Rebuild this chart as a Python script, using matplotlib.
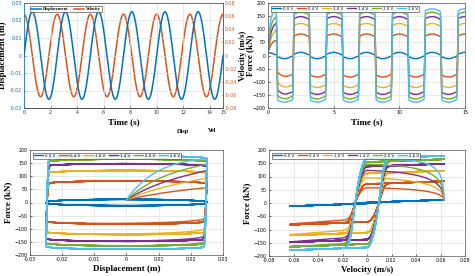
import numpy as np
import matplotlib
matplotlib.use("Agg")
import matplotlib.pyplot as plt

# test signal
amp_disp = 0.025      # m
period = 2.5          # s
t_end = 15.0

# damper levels
volt_labels = ["0.0 V", "0.4 V", "1.0 V", "1.4 V", "2.0 V", "2.6 V"]
yield_force = [2, 72, 112, 138, 155, 168]       # kN
rise_tau = [0.3, 0.39, 0.33, 0.28, 0.22, 0.15]  # s, start-up lag
visc = 160.0          # kN s/m
delta = 0.0003        # m, Bouc-Wen yield displacement

colors = ["#0072BD", "#D95319", "#EDB120", "#7E2F8E", "#77AC30", "#4DBEEE"]

t = np.linspace(0, t_end, 30001)
w = 2 * np.pi / period
x = amp_disp * np.sin(w * t)
v = amp_disp * w * np.cos(w * t)

forces = []
for f0, tau in zip(yield_force, rise_tau):
    z = np.zeros_like(t)
    for i in range(1, len(t)):
        dx = x[i] - x[i - 1]
        zp = z[i - 1]
        dz = dx / delta - 0.5 / delta * abs(dx) * zp * abs(zp) - 0.5 / delta * dx * zp ** 2
        z[i] = np.clip(zp + dz, -1, 1)
    g = 1 - np.exp(-t / tau)
    forces.append(f0 * g * z + visc * v)

W, H = 475, 276
fig = plt.figure(figsize=(W / 100, H / 100), dpi=100)

def pos(l, t_, r, b):
    return [l / W, 1 - b / H, (r - l) / W, (b - t_) / H]

lab = dict(family="Liberation Serif", fontweight="bold", fontsize=6.5)
tick_fs = 3.4

def style(ax):
    ax.grid(True, color="#e0e0e0", lw=0.5)
    ax.set_axisbelow(True)
    ax.tick_params(labelsize=tick_fs, length=1.5, width=0.4, pad=1.5, direction="in")
    for s in ax.spines.values():
        s.set_linewidth(0.5)
        s.set_color("#555555")

# top left
ax1 = fig.add_axes(pos(24, 3, 223, 108))
l1, = ax1.plot(t, x, color=colors[0], lw=1.1, label="Displacement")
ax1.set_xlim(0, 15)
ax1.set_ylim(-0.03, 0.03)
ax1.set_xticks([0, 2, 4, 6, 8, 10, 12, 14, 15])
ax1.set_yticks([-0.03, -0.02, -0.01, 0, 0.01, 0.02, 0.03])
ax1.set_yticklabels(["-0.03", "-0.02", "-0.01", "0", "0.01", "0.02", "0.03"])
style(ax1)
ax1.tick_params(axis="y", colors=colors[0])
ax1.tick_params(axis="x", colors="#333333")
ax1.spines["left"].set_color(colors[0])
ax1.set_xlabel("Time (s)", labelpad=2, **lab)
ax1.set_ylabel("Displacement (m)", labelpad=2, **lab)
ax1b = ax1.twinx()
l2, = ax1b.plot(t, v, color=colors[1], lw=1.1, label="Velocity")
ax1b.set_ylim(-0.08, 0.08)
ax1b.set_yticks([-0.08, -0.06, -0.04, -0.02, 0, 0.02, 0.04, 0.06, 0.08])
ax1b.set_yticklabels(["-0.08", "-0.06", "-0.04", "-0.02", "0", "0.02", "0.04", "0.06", "0.08"])
ax1b.tick_params(labelsize=tick_fs, length=1.5, width=0.4, pad=1.2, direction="in", colors=colors[1])
for s in ax1b.spines.values():
    s.set_linewidth(0.5)
ax1b.spines["right"].set_color(colors[1])
ax1b.spines["left"].set_color(colors[0])
ax1b.set_ylabel("Velocity (m/s)", family="Liberation Serif", fontweight="bold", fontsize=6.2)
ax1b.yaxis.set_label_coords(1.078, 0.5)
leg = ax1.legend(handles=[l1, l2], loc="upper left", ncol=2,
                 prop={"family": "Liberation Serif", "weight": "bold", "size": 3.2},
                 bbox_to_anchor=(0.03, 0.975), borderaxespad=0, handlelength=2.2,
                 columnspacing=1.2, handletextpad=0.5, frameon=True, fancybox=False,
                 edgecolor="#333333", borderpad=0.3)
leg.get_frame().set_linewidth(0.5)
ax1.set_zorder(ax1b.get_zorder() + 1)
ax1.patch.set_visible(False)
fig.text(183 / W, 1 - 131 / H, "Disp", fontsize=4.5, family="Liberation Serif", fontweight="bold", ha="center", va="center")
fig.text(212 / W, 1 - 131 / H, "Vel", fontsize=4.5, family="Liberation Serif", fontweight="bold", ha="center", va="center")

def legend6(ax):
    lg = ax.legend(loc="upper left", ncol=6, fontsize=2.8, bbox_to_anchor=(0.015, 0.975),
                   borderaxespad=0, handlelength=2.4, columnspacing=0.9, handletextpad=0.5,
                   frameon=True, fancybox=False, edgecolor="#333333", borderpad=0.3)
    lg.get_frame().set_linewidth(0.5)

# top right
ax2 = fig.add_axes(pos(268, 3, 465, 108))
for f, c, name in zip(forces, colors, volt_labels):
    ax2.plot(t, f, color=c, lw=1.0, label=name)
ax2.set_xlim(0, 15)
ax2.set_ylim(-200, 200)
ax2.set_xticks([0, 5, 10, 15])
ax2.set_yticks(np.arange(-200, 201, 50))
style(ax2)
ax2.set_xlabel("Time (s)", labelpad=2, **lab)
ax2.set_ylabel("Force (kN)", **lab)
ax2.yaxis.set_label_coords(-0.072, 0.5)
legend6(ax2)

# bottom left
ax3 = fig.add_axes(pos(30, 150, 223, 255))
for f, c, name in zip(forces, colors, volt_labels):
    ax3.plot(x, f, color=c, lw=1.0, label=name)
ax3.set_xlim(-0.03, 0.03)
ax3.set_ylim(-200, 200)
ax3.set_xticks([-0.03, -0.02, -0.01, 0, 0.01, 0.02, 0.03])
ax3.set_xticklabels(["-0.03", "-0.02", "-0.01", "0", "0.01", "0.02", "0.03"])
ax3.set_yticks(np.arange(-200, 201, 50))
style(ax3)
ax3.set_xlabel("Displacement (m)", labelpad=2, **lab)
ax3.set_ylabel("Force (kN)", labelpad=2, **lab)
legend6(ax3)

# bottom right
ax4 = fig.add_axes(pos(269, 150, 465, 256))
for f, c, name in zip(forces, colors, volt_labels):
    ax4.plot(v, f, color=c, lw=1.0, label=name)
ax4.set_xlim(-0.08, 0.08)
ax4.set_ylim(-200, 200)
ax4.set_xticks([-0.08, -0.06, -0.04, -0.02, 0, 0.02, 0.04, 0.06, 0.08])
ax4.set_xticklabels(["-0.08", "-0.06", "-0.04", "-0.02", "0", "0.02", "0.04", "0.06", "0.08"])
ax4.set_yticks(np.arange(-200, 201, 50))
style(ax4)
ax4.set_xlabel("Velocity (m/s)", labelpad=2, **lab)
ax4.set_ylabel("Force (kN)", labelpad=2, **lab)
legend6(ax4)

fig.savefig("out.png", dpi=100)
